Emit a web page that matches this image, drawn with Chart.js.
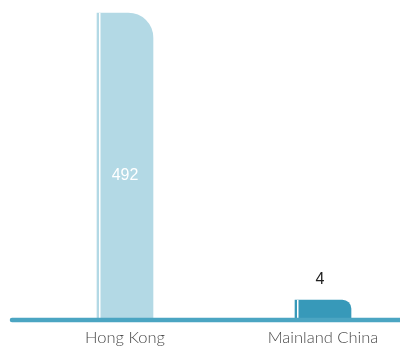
<!DOCTYPE html>
<html>
<head>
<meta charset="utf-8">
<script src="https://cdn.jsdelivr.net/npm/chart.js@4"></script>
<style>
  html, body { margin: 0; padding: 0; background: #fff; }
  #wrap { width: 400px; height: 346px; }
</style>
</head>
<body>
<div id="wrap"><canvas id="grafico"></canvas></div>
<script>
// datos del gráfico
const regiones = ['Hong Kong', 'Mainland China'];
const valores = [492, 4];
const colores = ['#b3d9e5', '#3799b9'];
const colorTextoValor = ['#ffffff', '#222222'];

// dibuja la línea base, la línea blanca de cada barra y los valores
const decoracion = {
    id: 'decoracion',
    afterDatasetsDraw(chart) {
        const ctx = chart.ctx;
        const area = chart.chartArea;
        const meta = chart.getDatasetMeta(0);
        ctx.save();
        meta.data.forEach((bar, i) => {
            const left = bar.x - bar.width / 2;
            ctx.fillStyle = '#ffffff';
            ctx.fillRect(left + 2, bar.y, 1.5, bar.base - bar.y);

            ctx.font = '16px "Liberation Sans", Arial, sans-serif';
            ctx.textAlign = 'center';
            ctx.textBaseline = 'middle';
            ctx.fillStyle = colorTextoValor[i];
            if (bar.base - bar.y > 40) {
                ctx.fillText(valores[i], bar.x, (bar.y + bar.base) / 2 + 10);
            } else {
                ctx.fillText(valores[i], bar.x - 3, bar.y - 20);
            }
        });
        // línea base
        ctx.strokeStyle = '#4ba5c2';
        ctx.lineWidth = 4.5;
        ctx.lineCap = 'round';
        ctx.beginPath();
        ctx.moveTo(12, area.bottom + 2);
        ctx.lineTo(402, area.bottom + 2);
        ctx.stroke();
        ctx.restore();
    }
};

const ctx = document.getElementById('grafico').getContext('2d');
new Chart(ctx, {
    type: 'bar',
    data: {
        labels: regiones,
        datasets: [{
            data: valores,
            backgroundColor: colores,
            borderWidth: 0,
            borderSkipped: false,
            borderRadius: { topLeft: 0, topRight: 25, bottomLeft: 0, bottomRight: 0 },
            barThickness: 56,
            minBarLength: 18,
            clip: false
        }]
    },
    options: {
        responsive: true,
        maintainAspectRatio: false,
        animation: false,
        layout: {
            padding: { top: 13, left: 125, right: 77, bottom: 0 }
        },
        plugins: {
            legend: { display: false },
            tooltip: { enabled: false }
        },
        scales: {
            x: {
                offset: false,
                grid: { display: false, drawTicks: false },
                border: { display: false },
                ticks: {
                    color: '#4a4a4a',
                    padding: 10,
                    maxRotation: 0,
                    autoSkip: false,
                    font: { family: 'Lato, "DejaVu Sans", sans-serif', size: 16.5, weight: 300 }
                },
                afterFit(scale) {
                    scale.height = 28;
                }
            },
            y: {
                display: false,
                min: 0,
                max: 492
            }
        }
    },
    plugins: [decoracion]
});
</script>
</body>
</html>
